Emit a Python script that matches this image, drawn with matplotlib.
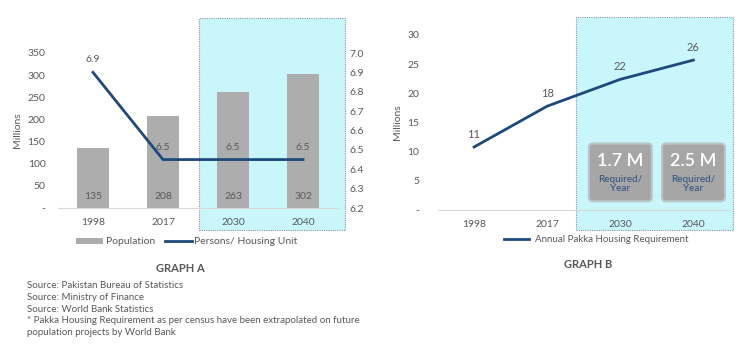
import numpy as np
import matplotlib
matplotlib.use("Agg")
import matplotlib.pyplot as plt
from matplotlib.patches import Rectangle, FancyBboxPatch
from matplotlib.ticker import FuncFormatter

plt.rcParams['font.family'] = ['Lato', 'DejaVu Sans']

# === Data ===
years = ['1998', '2017', '2030', '2040']
population = [135, 208, 263, 302]
persons_per_unit = [6.9, 6.45, 6.45, 6.45]
persons_labels = ['6.9', '6.5', '6.5', '6.5']
pakka_req = [10.8, 17.8, 22.4, 25.7]
pakka_labels = ['11', '18', '22', '26']
box_values = ['1.7 M', '2.5 M']
box_years = [2, 3]
sources = ["Source: Pakistan Bureau of Statistics",
           "Source: Ministry of Finance",
           "Source: World Bank Statistics",
           "* Pakka Housing Requirement as per census have been extrapolated on future",
           "population projects by World Bank"]

GRAY_TXT = '#595959'
BAR = '#adadad'
NAVY = '#1d4a7a'
CYAN = '#c9f6fb'

W, H = 750, 356
fig = plt.figure(figsize=(7.5, 3.56), dpi=100)


def px_axes(x0, y0, x1, y1):
    # pixel box (top-left origin) -> figure fraction
    return [x0 / W, 1 - y1 / H, (x1 - x0) / W, (y1 - y0) / H]


# === Shaded projection zones ===
for (x0, y0, x1, y1) in [(199, 18, 345, 230), (576, 17, 733, 230)]:
    l, b, w, h = px_axes(x0, y0, x1, y1)
    fig.patches.append(Rectangle((l, b), w, h, transform=fig.transFigure,
                                 facecolor=CYAN, edgecolor='#8a9a9c',
                                 linestyle=(0, (1, 1)), linewidth=0.8, zorder=-5))

x = np.arange(len(years))


def style_axis(ax):
    for s in ['top', 'right', 'left']:
        ax.spines[s].set_visible(False)
    ax.spines['bottom'].set_color('#d9d9d9')
    ax.tick_params(length=0, colors=GRAY_TXT, labelsize=7.5)
    ax.patch.set_visible(False)


dash_zero = FuncFormatter(lambda v, p: '-' if v == 0 else f'{v:.0f}')

# === Graph A ===
axA = fig.add_axes(px_axes(58, 53, 338, 208))
style_axis(axA)
axA.bar(x, population, width=0.46, color=BAR, label='Population', zorder=2)
axA.set_xlim(-0.5, 3.5)
axA.set_ylim(0, 350)
axA.set_yticks(range(0, 351, 50))
axA.yaxis.set_major_formatter(dash_zero)
axA.set_xticks(x)
axA.set_xticklabels(years)
axA.tick_params(axis='y', pad=9)
axA.tick_params(axis='x', pad=7)
axA.set_ylabel('Millions', color=GRAY_TXT, fontsize=7.5, labelpad=4)
for xi, v in zip(x, population):
    axA.text(xi, 25, str(v), ha='center', va='center', color=GRAY_TXT, fontsize=7.5, zorder=3)

axA2 = axA.twinx()
style_axis(axA2)
axA2.spines['bottom'].set_visible(False)
axA2.plot(x, persons_per_unit, color=NAVY, linewidth=2, label='Persons/ Housing Unit', zorder=4)
axA2.set_ylim(6.2, 7.0)
axA2.set_yticks(np.arange(6.2, 7.01, 0.1))
axA2.yaxis.set_major_formatter(FuncFormatter(lambda v, p: f'{v:.1f}'))
axA2.tick_params(axis='y', pad=8)
for xi, v, lab in zip(x, persons_per_unit, persons_labels):
    axA2.annotate(lab, (xi, v), xytext=(0, 9), textcoords='offset points',
                  ha='center', va='center', color=GRAY_TXT, fontsize=7.5)

hA1, lA1 = axA.get_legend_handles_labels()
hA2, lA2 = axA2.get_legend_handles_labels()
fig.legend(hA1 + hA2, lA1 + lA2, ncol=2, loc='center', bbox_to_anchor=(187 / W, 1 - 242 / H),
           frameon=False, fontsize=7.5, labelcolor=GRAY_TXT, handlelength=2.6,
           handleheight=0.6, handletextpad=0.2, columnspacing=1.0)

fig.text(180 / W, 1 - 269 / H, 'GRAPH A', ha='center', va='center', color=GRAY_TXT,
         fontsize=8, fontweight='bold')
for i, line in enumerate(sources):
    fig.text(27 / W, 1 - (286 + i * 11.6) / H, line, ha='left', va='center',
             color=GRAY_TXT, fontsize=7)

# === Graph B ===
axB = fig.add_axes(px_axes(437.5, 35, 730, 210))
style_axis(axB)
axB.plot(x, pakka_req, color=NAVY, linewidth=2, label='Annual Pakka Housing Requirement', zorder=3)
axB.set_xlim(-0.5, 3.5)
axB.set_ylim(0, 30)
axB.set_yticks(range(0, 31, 5))
axB.yaxis.set_major_formatter(dash_zero)
axB.set_xticks(x)
axB.set_xticklabels(years)
axB.tick_params(axis='y', pad=13)
axB.tick_params(axis='x', pad=7)
axB.set_ylabel('Millions', color=GRAY_TXT, fontsize=7.5, labelpad=4)
for xi, v, lab in zip(x, pakka_req, pakka_labels):
    axB.annotate(lab, (xi, v), xytext=(0, 9), textcoords='offset points',
                 ha='center', va='center', color=GRAY_TXT, fontsize=8)

# callout boxes for yearly requirement
for bx, val in zip(box_years, box_values):
    axB.add_patch(FancyBboxPatch((bx - 0.43, 1.5), 0.86, 9.9,
                                 boxstyle='round,pad=0,rounding_size=0.06',
                                 mutation_aspect=10, facecolor='#a6a6a6',
                                 edgecolor='#b9c6c8', linewidth=1.5, zorder=4))
    axB.text(bx, 8.4, val, ha='center', va='center', color='white', fontsize=13,
             fontweight='semibold', zorder=5)
    axB.text(bx, 4.4, 'Required/\nYear', ha='center', va='center', color='#2f4f7f',
             fontsize=7.2, linespacing=1.0, zorder=5)

fig.legend(*axB.get_legend_handles_labels(), loc='center', bbox_to_anchor=(596 / W, 1 - 240 / H),
           frameon=False, fontsize=7, labelcolor=GRAY_TXT, handlelength=2.6, handletextpad=0.6)

fig.text(588 / W, 1 - 265 / H, 'GRAPH B', ha='center', va='center', color=GRAY_TXT,
         fontsize=8, fontweight='bold')

fig.savefig('out.png', dpi=100, facecolor='white')
